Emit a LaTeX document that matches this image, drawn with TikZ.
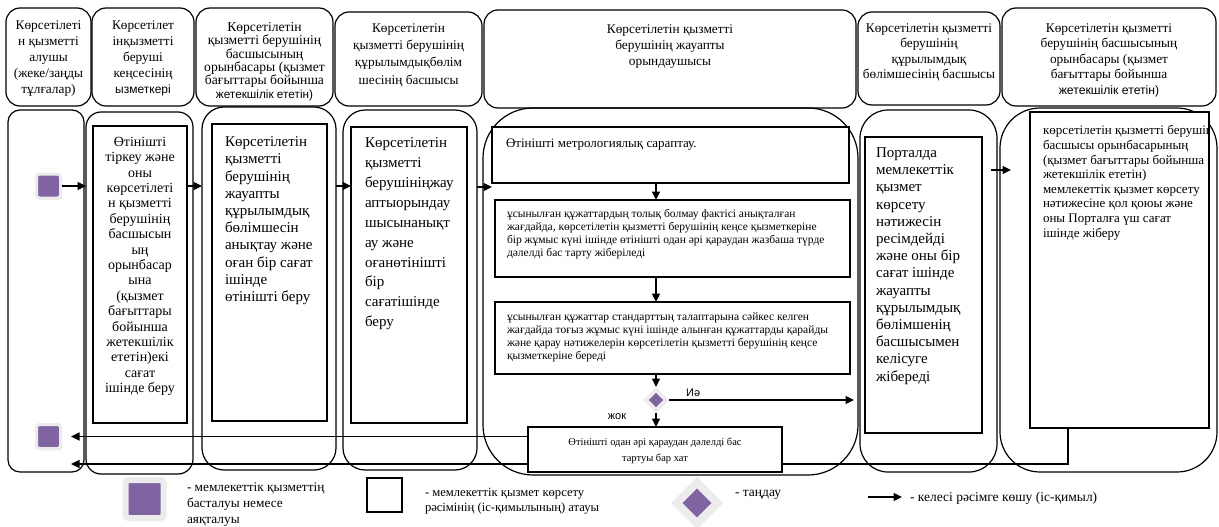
\documentclass[tikz,border=0pt]{standalone}
\usepackage{fontspec}
\setmainfont{Liberation Serif}
\newfontfamily\arialf{Liberation Sans}
\usetikzlibrary{arrows.meta,shapes.geometric,shadows,calc}
\definecolor{vpurple}{HTML}{8064A2}
\definecolor{bevel}{HTML}{ECECEC}
\newcommand\fs[2]{\fontsize{#1}{#2}\selectfont}
% rectangle node given by its top-left and bottom-right corners
\newcommand\rectnode[6][]{%
  \node[#1, anchor=north west, minimum width={#5-#3}, minimum height={#6-#4},
        inner sep=0pt, outer sep=0pt] (#2) at (#3,#4) {};}
\tikzset{
  hdr/.style={draw=black, line width=1.2pt, rounded corners=14pt, fill=white},
  lane/.style={draw=black, line width=1.2pt, rounded corners=#1},
  box/.style={draw=black, line width=1.4pt, fill=white},
  txt/.style={inner sep=0pt, outer sep=0pt, align=left, anchor=north west},
  ctxt/.style={inner sep=0pt, outer sep=0pt, align=center, anchor=north},
  term/.style={rectangle, rounded corners=3pt, fill=vpurple, draw=bevel,
    inner sep=0pt, drop shadow={shadow xshift=1.2pt, shadow yshift=-1.6pt, fill=black!30}},
  dia/.style={diamond, aspect=1, fill=vpurple, draw=bevel, inner sep=0pt,
    drop shadow={shadow xshift=1.2pt, shadow yshift=-1.6pt, fill=black!30}},
  arr/.style={-{Triangle[length=8.5pt,width=8pt]}, line width=1.1pt},
  ln/.style={line width=1.1pt}
}
\begin{document}
\begin{tikzpicture}[x=1pt,y=-1pt]
\useasboundingbox (0,0) rectangle (1219,527);
\fill[white] (0,0) rectangle (1219,527);

% column headers
\rectnode[hdr]{H1}{6}{8}{91}{106}
\rectnode[hdr]{H2}{92}{8}{194}{106}
\rectnode[hdr]{H3}{196}{8}{333}{106}
\rectnode[hdr]{H4}{335}{12}{482}{106}
\rectnode[hdr]{H5}{484}{10}{856}{108}
\rectnode[hdr]{H6}{858}{12}{1000}{105}
\rectnode[hdr]{H7}{1002}{8}{1216}{106}

\node[ctxt, font=\fs{13.3}{16}] (th1) at (48.5,20.5)
  {Көрсетілеті\\н қызметті\\алушы\\(жеке/заңды\\тұлғалар)};
\node[ctxt, font=\fs{13.3}{16}] (th2) at (143,20.5)
  {Көрсетілет\\інқызметті\\беруші\\кеңсесінің\\{\arialf\fs{12}{16}ызметкері}};
\node[ctxt, font=\fs{13.6}{13.3}] (th3) at (264.5,22.5)
  {Көрсетілетін\\қызметті берушінің\\басшысының\\орынбасары (қызмет\\бағыттары бойынша\\{\arialf\fs{11.8}{13.3}жетекшілік ететін)}};
\node[ctxt, font=\fs{13.3}{17.3}] (th4) at (408.5,23.5)
  {Көрсетілетін\\қызметті берушінің\\құрылымдықбөлім\\шесінің басшысы};
\node[ctxt, font=\fs{13.3}{16}] (th5) at (670,24.5)
  {Көрсетілетін қызметті\\берушінің жауапты\\орындаушысы};
\node[ctxt, font=\fs{13.3}{15.5}] (th6) at (929,23.5)
  {Көрсетілетін қызметті\\берушінің\\құрылымдық\\бөлімшесінің басшысы};
\node[ctxt, font=\fs{13.3}{15.5}] (th7) at (1109,23.5)
  {Көрсетілетін қызметті\\берушінің басшысының\\орынбасары (қызмет\\бағыттары бойынша\\{\arialf\fs{12.2}{15.5}жетекшілік ететін)}};

% swimlanes
\rectnode[lane=12pt]{L1}{8}{110}{84}{472}
\rectnode[lane=15pt]{L2}{86}{112}{193}{474}
\rectnode[lane=22pt]{L3}{202}{107}{336}{470}
\rectnode[lane=22pt]{L4}{343}{110}{477}{470}
\rectnode[lane=50pt]{L5}{483}{108}{858}{475}
\rectnode[lane=28pt]{L6}{860}{110}{997}{472}
\rectnode[lane=40pt]{L7}{1000}{108}{1217}{472}

% process boxes
\rectnode[box]{A}{93}{126}{187}{423}
\rectnode[box]{B}{212}{124}{327}{421}
\rectnode[box]{C}{351}{127}{467}{423}
\rectnode[box]{D}{492}{127}{849}{183}
\rectnode[box]{E}{495}{200}{850}{277}
\rectnode[box]{F}{495}{302}{850}{374}
\rectnode[box]{H}{865}{137}{982}{433}
\rectnode[box]{J}{1030}{112}{1209}{428}

% start / end symbols and the decision
\node[term, minimum size=24pt, line width=3pt] (S1) at (48.5,186) {};
\node[term, minimum size=24pt, line width=3pt] (S2) at (48.5,436.5) {};
\node[dia, minimum size=22pt, line width=4pt] (K) at (656,400) {};

% returned result line
\coordinate (jb) at ($(J.south west)+(38,0)$);
\coordinate (ret) at (71,464);
\draw[arr] (jb) |- (ret);

% refusal letter box
\rectnode[box]{G}{528}{427}{782}{472}
\draw[arr, shorten >=9pt] (G.west |- S2) -- (S2.east);

% flow arrows
\draw[arr] (S1.east) -- (L2.west |- S1.east);
\draw[arr] (A.east |- S1) -- (L3.west |- S1);
\draw[arr] (L3.east |- S1) -- (C.west |- S1);
\draw[arr] (L4.east |- 0,187) -- (D.west |- 0,187);
\draw[arr] (D.south -| K) -- (E.north -| K);
\draw[arr] (E.south -| K) -- (F.north -| K);
\draw[arr] (F.south -| K) -- (K.north);
\draw[arr] (K.south) -- (G.north -| K);
\draw[arr, shorten >=6pt] (K.east) -- (L6.west |- K.east);
\draw[arr] ($(H.east |- 0,170)+(9,0)$) -- ($(L7.west |- 0,170)+(11,0)$);
\node[font=\arialf\fs{11}{13}, anchor=west, inner sep=0pt] (yes) at (686,393) {Иә};
\node[font=\arialf\fs{11}{13}, inner sep=0pt] (no) at (617,417) {жок};

% box texts
\node[ctxt, font=\fs{14}{15.4}] (tA) at (140,137)
  {Өтінішті\\тіркеу және\\оны\\көрсетілеті\\н қызметті\\берушінің\\басшысын\\ың\\орынбасар\\ына\\(қызмет\\бағыттары\\бойынша\\жетекшілік\\ететін)екі\\сағат\\ішінде беру};
\node[txt, font=\fs{15}{17.2}] (tB) at (225,136.7)
  {Көрсетілетін\\қызметті\\берушінің\\жауапты\\құрылымдық\\бөлімшесін\\анықтау және\\оған бір сағат\\ішінде\\өтінішті беру};
\node[txt, font=\fs{15}{19.9}] (tC) at (365,137.7)
  {Көрсетілетін\\қызметті\\берушініңжау\\аптыорындау\\шысынанықт\\ау және\\оғанөтінішті\\бір\\сағатішінде\\беру};
\node[txt, font=\fs{13}{16}] (tD) at (506,138.5) {Өтінішті метрологиялық сараптау.};
\node[txt, font=\fs{11.5}{13}] (tE) at (507,209)
  {ұсынылған құжаттардың толық болмау фактісі анықталған\\жағдайда, көрсетілетін қызметті берушінің кеңсе қызметкеріне\\бір жұмыс күні ішінде өтінішті одан әрі қараудан жазбаша түрде\\дәлелді бас тарту жіберіледі};
\node[txt, font=\fs{11.5}{13}] (tF) at (507,313)
  {ұсынылған құжаттар стандарттың талаптарына сәйкес келген\\жағдайда тоғыз жұмыс күні ішінде алынған құжаттарды қарайды\\және қарау нәтижелерін көрсетілетін қызметті берушінің кеңсе\\қызметкеріне береді};
\node[ctxt, font=\fs{10.5}{16}] (tG) at (655,438.3)
  {Өтінішті одан әрі қараудан дәлелді бас\\тартуы бар хат};
\node[txt, font=\fs{15}{17.2}] (tH) at (876,147.7)
  {Порталда\\мемлекеттік\\қызмет\\көрсету\\нәтижесін\\ресімдейді\\және оны бір\\сағат ішінде\\жауапты\\құрылымдық\\бөлімшенің\\басшысымен\\келісуге\\жібереді};
\begin{scope}
  \clip (J.north west) rectangle (J.south east);
  \node[txt, font=\fs{13}{14.6}] (tJ) at (1043,125.5)
    {көрсетілетін қызметті берушінің\\басшысы орынбасарының\\(қызмет бағыттары бойынша\\жетекшілік ететін)\\мемлекеттік қызмет көрсету\\нәтижесіне қол қоюы және\\оны Порталға үш сағат\\ішінде жіберу};
\end{scope}

% legend
\node[term, minimum size=38pt, line width=6pt] (LS) at (144.5,499) {};
\node[txt, font=\fs{13.3}{16}] (lt1) at (187,482.5)
  {- мемлекеттік қызметтің\\басталуы немесе\\аяқталуы};
\rectnode[box]{LW}{367}{478}{402}{512}
\node[txt, font=\fs{12.6}{15}] (lt2) at (425,487.8)
  {- мемлекеттік қызмет көрсету\\рәсімінің (іс-қимылының) атауы};
\node[dia, minimum size=44pt, line width=8pt] (LD) at (697,503) {};
\node[txt, font=\fs{13.5}{16}] (lt3) at (735,490.2) {- таңдау};
\coordinate (la1) at (868,497);
\coordinate (la2) at (902,497);
\draw[arr] (la1) -- (la2);
\node[txt, font=\fs{13.5}{16}] (lt4) at (910,492.2) {- келесі рәсімге көшу (іс-қимыл)};
\end{tikzpicture}
\end{document}
